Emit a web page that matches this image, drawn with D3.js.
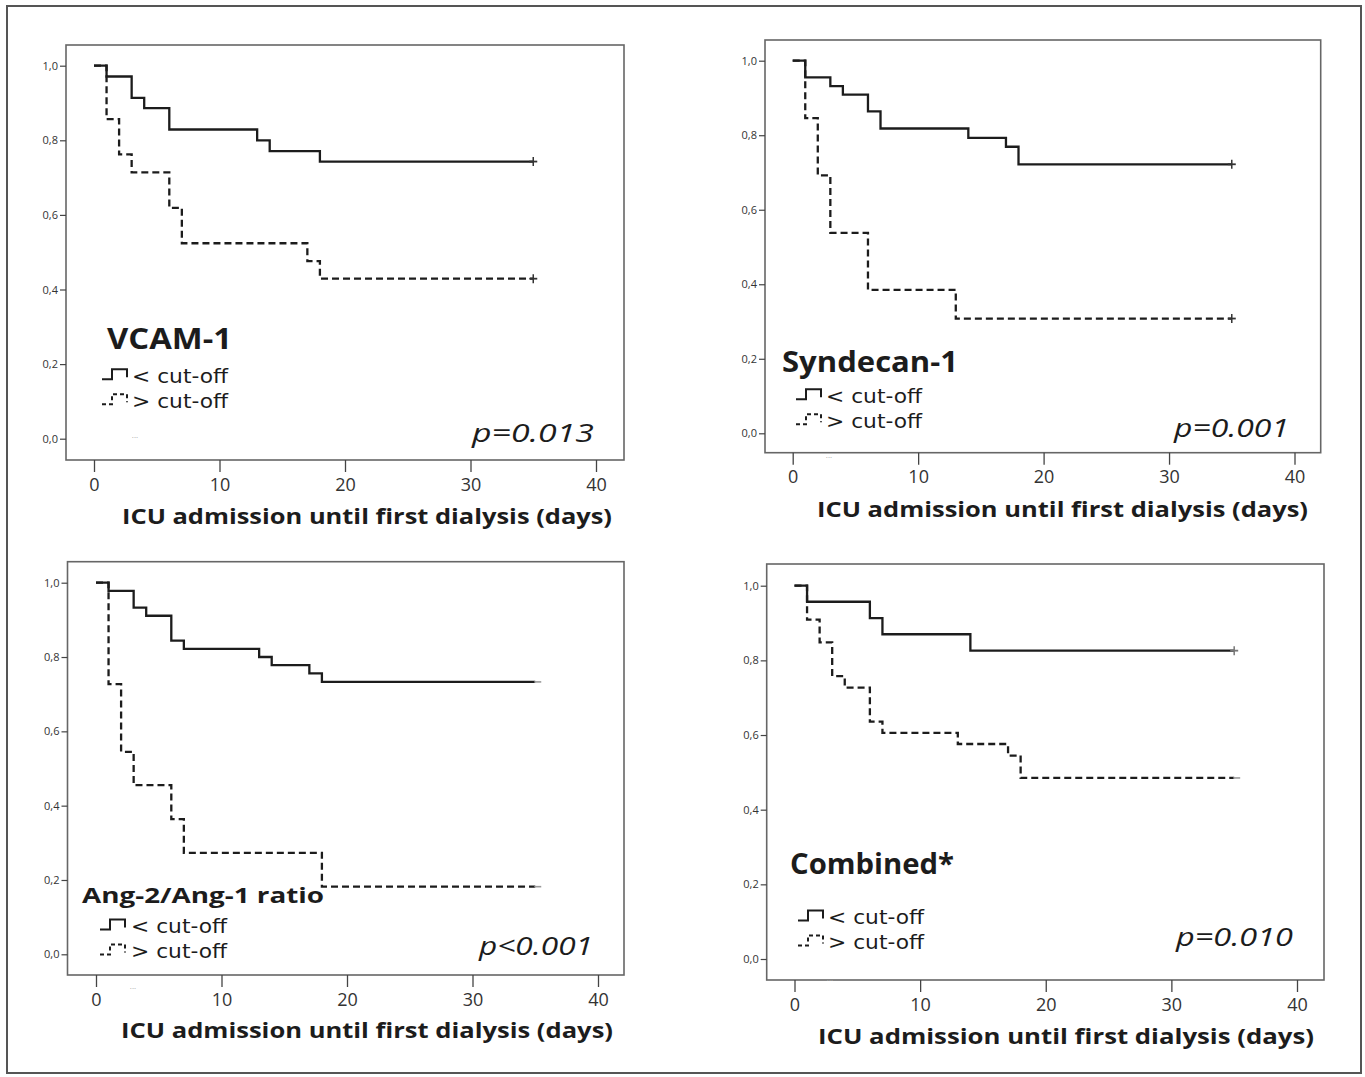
<!DOCTYPE html>
<html>
<head>
<meta charset="utf-8">
<script src="https://cdn.jsdelivr.net/npm/d3@7/dist/d3.min.js"></script>
<style>
  html, body { margin: 0; padding: 0; background: #fff; }
  svg { display: block; }
</style>
</head>
<body>
<svg id="chart" width="1365" height="1077"></svg>
<script>
// ---------- DATA ----------
const xTicks = [0, 10, 20, 30, 40];
const yTicks = [0, 0.2, 0.4, 0.6, 0.8, 1.0];
const panelNames = ["VCAM-1", "Syndecan-1", "Ang-2/Ang-1 ratio", "Combined*"];
const pValues = ["p=0.013", "p=0.001", "p<0.001", "p=0.010"];
const legendLabels = ["< cut-off", "> cut-off"];
const axisTitle = "ICU admission until first dialysis (days)";

// Kaplan-Meier steps (days, cumulative proportion without dialysis)
const vcamLowTime  = [0, 1, 3, 4, 6, 13, 14, 18, 35];
const vcamLowSurv  = [1, 0.971, 0.914, 0.886, 0.829, 0.800, 0.771, 0.743, 0.743];
const vcamHighTime = [0, 1, 2, 3, 6, 7, 17, 18, 35];
const vcamHighSurv = [1, 0.857, 0.762, 0.714, 0.619, 0.524, 0.476, 0.429, 0.429];

const syndLowTime  = [0, 1, 3, 4, 6, 7, 14, 17, 18, 35];
const syndLowSurv  = [1, 0.955, 0.932, 0.909, 0.864, 0.818, 0.793, 0.769, 0.722, 0.722];
const syndHighTime = [0, 1, 2, 3, 6, 13, 35];
const syndHighSurv = [1, 0.846, 0.692, 0.538, 0.385, 0.308, 0.308];

const angLowTime  = [0, 1, 3, 4, 6, 7, 13, 14, 17, 18, 35];
const angLowSurv  = [1, 0.978, 0.933, 0.911, 0.844, 0.822, 0.800, 0.778, 0.756, 0.733, 0.733];
const angHighTime = [0, 1, 2, 3, 6, 7, 18, 35];
const angHighSurv = [1, 0.727, 0.545, 0.455, 0.364, 0.273, 0.182, 0.182];

const combLowTime  = [0, 1, 6, 7, 14, 35];
const combLowSurv  = [1, 0.957, 0.913, 0.870, 0.826, 0.826];
const combHighTime = [0, 1, 2, 3, 4, 6, 7, 13, 17, 18, 35];
const combHighSurv = [1, 0.909, 0.848, 0.758, 0.727, 0.636, 0.606, 0.576, 0.545, 0.485, 0.485];

// censoring mark drawn at the end of each curve
const endMarks = [["plus", "plus"], ["plus", "plus"], ["dash", "dash"], ["plus", "dash"]];

const seriesByPanel = [
  [[vcamLowTime, vcamLowSurv], [vcamHighTime, vcamHighSurv]],
  [[syndLowTime, syndLowSurv], [syndHighTime, syndHighSurv]],
  [[angLowTime, angLowSurv], [angHighTime, angHighSurv]],
  [[combLowTime, combLowSurv], [combHighTime, combHighSurv]]
];

// ---------- LAYOUT (pixels) ----------
const layout = [
  { box: [66, 45, 624, 460], xr: [94, 596], yr: [438.7, 65.7],
    title: [122, 524, 490], name: [107, 349, 125, 29], rows: [102, 132, 382.7, 407.7],
    p: [472, 442, 122], dots: [135, 438] },
  { box: [765, 40, 1320.7, 452.7], xr: [792.7, 1294.5], yr: [433.3, 60.7],
    title: [817, 517, 491], name: [782, 371.7, 176, 28], rows: [796, 826, 402.7, 427.7],
    p: [1174, 437, 115], dots: [829, 458] },
  { box: [67.5, 561.7, 624, 975], xr: [96, 598], yr: [954.3, 582.7],
    title: [121, 1038, 492], name: [82, 903, 242, 22], rows: [100, 131, 933, 958],
    p: [479, 955, 114], dots: [133, 989] },
  { box: [766.7, 564, 1324, 980], xr: [794.5, 1297], yr: [959, 585.7],
    title: [818, 1044, 496], name: [790, 874, 164, 28], rows: [798, 828, 924, 949],
    p: [1176, 946, 117], dots: [830, 981] }
];

const FONT = "'Open Sans', 'DejaVu Sans', sans-serif";
const FONT2 = "'DejaVu Sans', sans-serif";
const INK = "#1c1c1c";
const DASH = "7,4";

const svg = d3.select("#chart");

// outer frame
svg.append("rect")
  .attr("x", 7).attr("y", 6).attr("width", 1354).attr("height", 1067)
  .attr("fill", "none").attr("stroke", "#555").attr("stroke-width", 2);

layout.forEach((L, i) => {
  const g = svg.append("g");
  const x = d3.scaleLinear().domain([0, 40]).range(L.xr);
  const y = d3.scaleLinear().domain([0, 1]).range(L.yr);
  const [bx0, by0, bx1, by1] = L.box;

  // plot frame
  g.append("rect")
    .attr("x", bx0).attr("y", by0).attr("width", bx1 - bx0).attr("height", by1 - by0)
    .attr("fill", "none").attr("stroke", "#666").attr("stroke-width", 1.6);

  // y axis
  const ya = g.append("g").attr("transform", `translate(${bx0},0)`)
    .call(d3.axisLeft(y).tickValues(yTicks).tickSize(6).tickPadding(2)
      .tickFormat(d => d.toFixed(1).replace(".", ",")));
  ya.select(".domain").remove();
  ya.selectAll("line").attr("stroke", "#444").attr("stroke-width", 1.2);
  ya.selectAll("text").attr("font-family", FONT).attr("font-size", 11).attr("fill", "#333");

  // x axis
  const xa = g.append("g").attr("transform", `translate(0,${by1})`)
    .call(d3.axisBottom(x).tickValues(xTicks).tickSize(12).tickPadding(6));
  xa.select(".domain").remove();
  xa.selectAll("line").attr("stroke", "#444").attr("stroke-width", 1.3);
  xa.selectAll("text").attr("font-family", FONT).attr("font-size", 18).attr("fill", "#333");

  // axis title
  g.append("text")
    .attr("x", L.title[0]).attr("y", L.title[1])
    .attr("textLength", L.title[2]).attr("lengthAdjust", "spacingAndGlyphs")
    .attr("font-family", FONT).attr("font-weight", "bold").attr("font-size", 21)
    .attr("fill", INK).text(axisTitle);

  // curves
  const line = d3.line().x(d => x(d[0])).y(d => y(d[1])).curve(d3.curveStepAfter);
  seriesByPanel[i].forEach((s, k) => {
    const pts = s[0].map((t, j) => [t, s[1][j]]);
    g.append("path").datum(pts)
      .attr("d", line)
      .attr("fill", "none").attr("stroke", INK).attr("stroke-width", 2.3)
      .attr("stroke-dasharray", k === 1 ? DASH : null);
    const last = pts[pts.length - 1];
    const ex = x(last[0]), ey = y(last[1]);
    const mark = endMarks[i][k];
    const mcol = (i === 3 && k === 0) ? "#777" : (mark === "dash" ? "#999" : "#333");
    if (mark === "plus") {
      g.append("line").attr("x1", ex - 4).attr("x2", ex + 4).attr("y1", ey).attr("y2", ey)
        .attr("stroke", mcol).attr("stroke-width", 1.8);
      g.append("line").attr("x1", ex).attr("x2", ex).attr("y1", ey - 4.5).attr("y2", ey + 4.5)
        .attr("stroke", mcol).attr("stroke-width", 1.5);
    } else {
      g.append("line").attr("x1", ex - 1).attr("x2", ex + 6).attr("y1", ey).attr("y2", ey)
        .attr("stroke", mcol).attr("stroke-width", 1.6);
    }
  });

  // legend title
  g.append("text")
    .attr("x", L.name[0]).attr("y", L.name[1])
    .attr("textLength", L.name[2]).attr("lengthAdjust", "spacingAndGlyphs")
    .attr("font-family", FONT).attr("font-weight", "bold").attr("font-size", L.name[3])
    .attr("fill", INK).text(panelNames[i]);

  // legend rows
  const [sx, tx, r1, r2] = L.rows;
  [r1, r2].forEach((ry, k) => {
    g.append("path")
      .attr("d", `M${sx},${ry - 3.4}H${sx + 10}V${ry - 13.4}H${sx + 25}V${ry - 5.4}`)
      .attr("fill", "none").attr("stroke", INK).attr("stroke-width", 2)
      .attr("stroke-dasharray", k === 1 ? "4,3" : null);
    g.append("text")
      .attr("x", tx).attr("y", ry)
      .attr("textLength", 96).attr("lengthAdjust", "spacingAndGlyphs")
      .attr("font-family", FONT2).attr("font-size", 20)
      .attr("fill", INK).text(legendLabels[k]);
  });

  // p value
  g.append("text")
    .attr("x", L.p[0]).attr("y", L.p[1])
    .attr("textLength", L.p[2]).attr("lengthAdjust", "spacingAndGlyphs")
    .attr("font-family", FONT).attr("font-style", "italic").attr("font-size", 26)
    .attr("fill", INK).text(pValues[i]);

  // small artefact dots
  g.append("text").attr("x", L.dots[0]).attr("y", L.dots[1])
    .attr("text-anchor", "middle").attr("font-family", FONT).attr("font-size", 8)
    .attr("fill", "#aaa").text("...");
});
</script>
</body>
</html>
